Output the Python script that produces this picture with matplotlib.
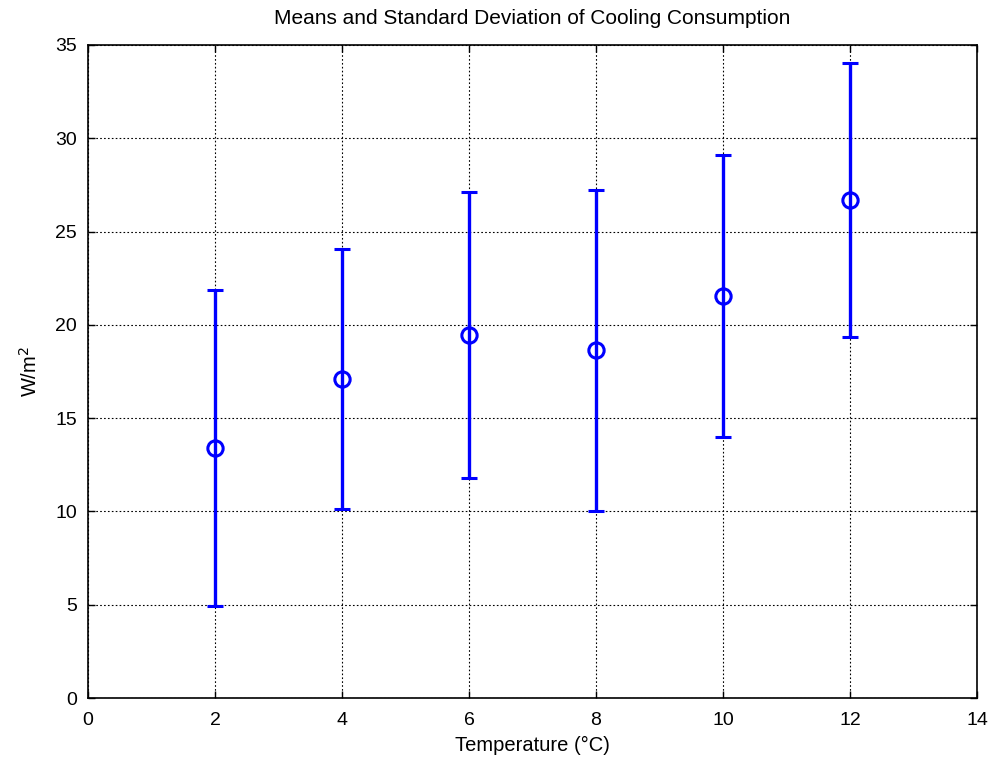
import matplotlib
matplotlib.use("Agg")
import matplotlib.pyplot as plt

# Cooling consumption per outdoor temperature step
temps = [2, 4, 6, 8, 10, 12]
means = [13.4, 17.1, 19.45, 18.65, 21.55, 26.7]
stds  = [8.45, 6.95, 7.65, 8.6, 7.57, 7.35]

plt.rcParams["font.family"] = ["Liberation Sans", "DejaVu Sans"]

fig = plt.figure(figsize=(9.96, 7.69), dpi=100)
ax = fig.add_axes([0.0884, 0.0923, 0.8925, 0.8492])

ax.errorbar(temps, means, yerr=stds, fmt="o", color="blue",
            ecolor="blue", elinewidth=2.4, capsize=5.5, capthick=2.4,
            markersize=11, markerfacecolor="none", markeredgewidth=2.2,
            zorder=3)

ax.set_xlim(0, 14)
ax.set_ylim(0, 35)
ax.set_xticks(range(0, 15, 2))
ax.set_yticks(range(0, 36, 5))
ax.grid(True, color="black", linestyle=(0, (1.5, 2)), linewidth=0.8)
ax.tick_params(direction="in", top=True, right=True, labelsize=14,
               length=5, width=1)
ax.tick_params(axis="y", pad=8)
ax.tick_params(axis="x", pad=10)
for s in ax.spines.values():
    s.set_linewidth(1.2)

ax.set_title("Means and Standard Deviation of Cooling Consumption",
             fontsize=15, pad=15)
ax.set_xlabel("Temperature (\u00b0C)", fontsize=14.5, labelpad=5)
ax.set_ylabel("W/m$^2$", fontsize=14.5, labelpad=10)

fig.savefig("out.png", dpi=100)
